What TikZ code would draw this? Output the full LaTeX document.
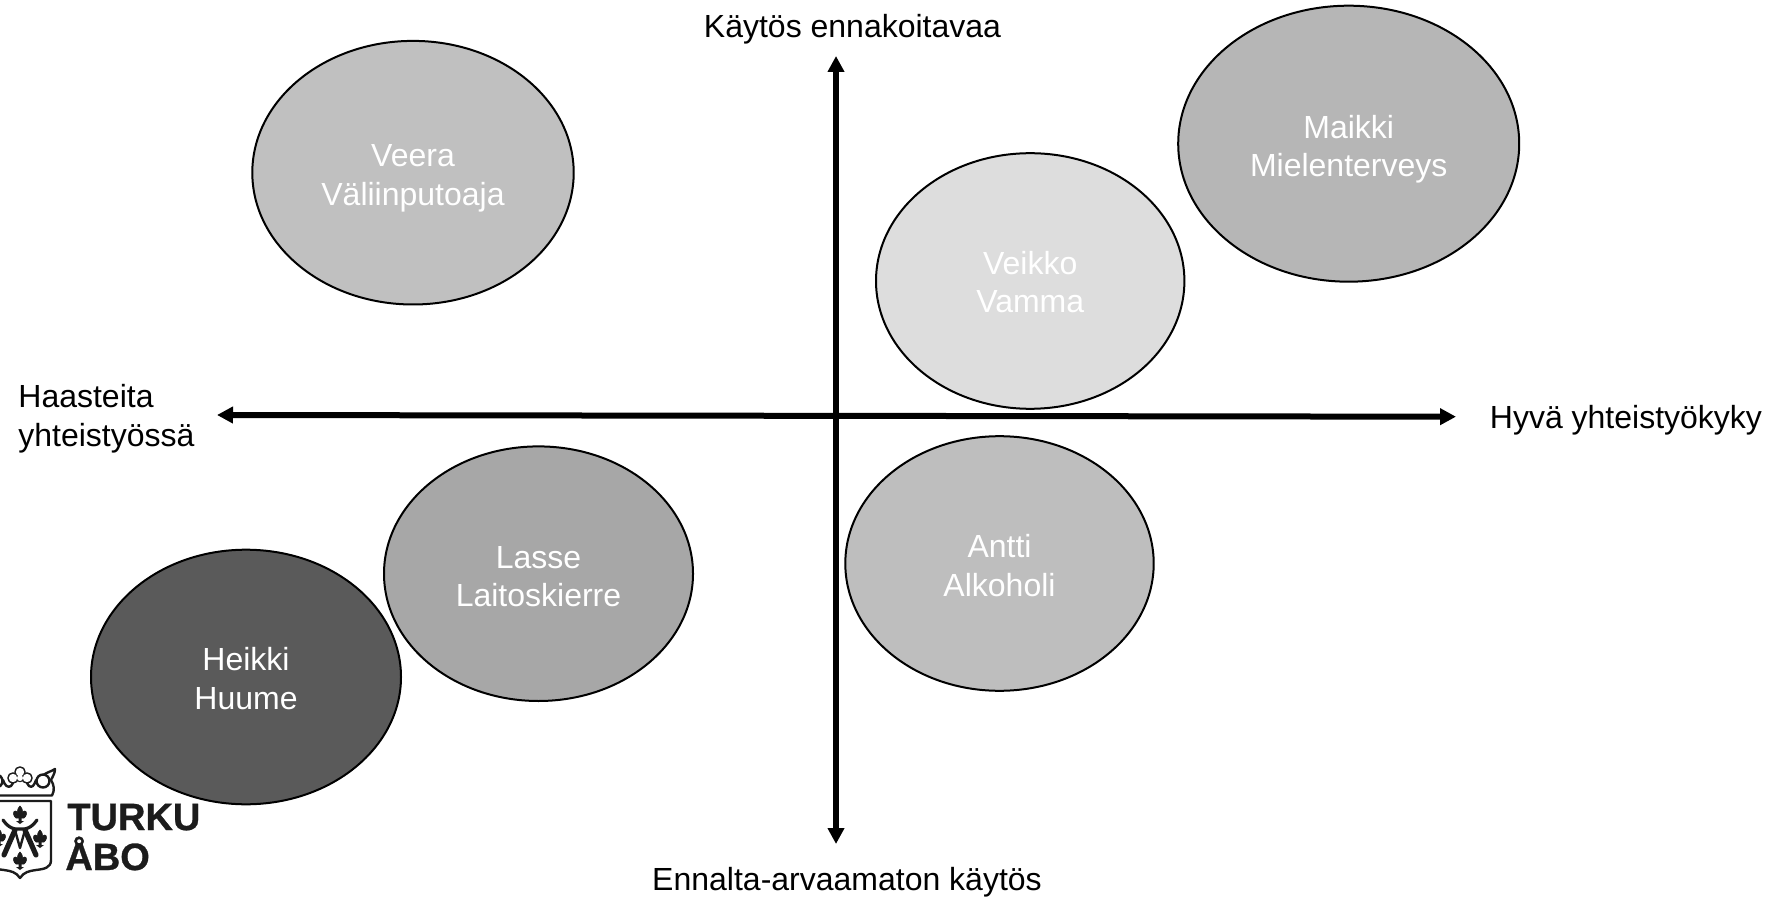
\documentclass[tikz,border=0pt]{standalone}
\usepackage{fontspec}
\setmainfont{Liberation Sans}
\newfontfamily\logofont[RawFeature={embolden=0.8}]{Liberation Sans Bold}
\usetikzlibrary{arrows.meta,shapes.geometric}
\definecolor{logoink}{HTML}{1C1C1C}
\definecolor{fillveera}{HTML}{C0C0C0}
\definecolor{fillmaikki}{HTML}{B6B6B6}
\definecolor{fillveikko}{HTML}{DDDDDD}
\definecolor{fillantti}{HTML}{BEBEBE}
\definecolor{filllasse}{HTML}{A7A7A7}
\definecolor{fillheikki}{HTML}{5A5A5A}
\tikzset{
  persona/.style={ellipse,draw=black,line width=1pt,inner sep=0pt},
  personatext/.style={text=white,inner sep=0pt,align=center,font=\fontsize{16}{19.3}\selectfont},
  axislabel/.style={text=black,inner sep=0pt,font=\fontsize{16}{19}\selectfont},
  axisline/.style={line width=3pt,draw=black,{Triangle[length=8pt,width=8pt]}-{Triangle[length=8pt,width=8pt]}},
  logoline/.style={draw=logoink,line width=1.2pt,line join=round,line cap=round},
  logotext/.style={text=logoink,inner sep=0pt,anchor=base west,font=\fontsize{19}{20}\selectfont\logofont}
}
\newcommand{\lilymark}[1]{%
  \begin{scope}[shift={(#1)}]
    \filldraw[logoink,line width=.3pt] (0,-9) .. controls (3,-6) and (3,-3) .. (1.5,-1)
      .. controls (3,-5) and (7,-5) .. (6.5,-1) .. controls (6.5,1) and (5,2) .. (4,3)
      -- (-4,3) .. controls (-5,2) and (-6.5,1) .. (-6.5,-1)
      .. controls (-7,-5) and (-3,-5) .. (-1.5,-1) .. controls (-3,-3) and (-3,-6) .. (0,-9) -- cycle;
    \fill[logoink] (-1.5,3) rectangle (1.5,6) (-4,6) -- (4,6) -- (0,9) -- cycle;
  \end{scope}}
\begin{document}
\begin{tikzpicture}[x=0.5pt,y=-0.5pt]
\useasboundingbox (0,0) rectangle (1780,897);
% personas
\node[persona,fill=fillveera,minimum width=160.7pt,minimum height=131.8pt] (veera) at (413,172.7) {};
\node[personatext] (veeratext) at (413,178.4) {Veera\\Väliinputoaja};
\node[persona,fill=fillmaikki,minimum width=170.5pt,minimum height=138pt] (maikki) at (1348.7,143.7) {};
\node[personatext] (maikkitext) at (1348.7,149.2) {Maikki\\Mielenterveys};
\node[persona,fill=fillveikko,minimum width=154.2pt,minimum height=127.8pt] (veikko) at (1030.2,281) {};
\node[personatext] (veikkotext) at (1030.2,282.2) {Veikko\\Vamma};
\node[persona,fill=fillantti,minimum width=154.2pt,minimum height=127.3pt] (antti) at (999.5,563.5) {};
\node[personatext] (anttitext) at (999.5,565.5) {Antti\\Alkoholi};
\node[persona,fill=filllasse,minimum width=154.5pt,minimum height=127.3pt] (lasse) at (538.5,573.7) {};
\node[personatext] (lassetext) at (538.5,576.5) {Lasse\\Laitoskierre};
\node[persona,fill=fillheikki,minimum width=155pt,minimum height=127.3pt] (heikki) at (246,677) {};
\node[personatext] (heikkitext) at (246,678.8) {Heikki\\Huume};
% axes
\coordinate (axisleft) at (217,415);
\coordinate (axisright) at (1456,416.7);
\coordinate (axistop) at (836,56);
\coordinate (axisbottom) at (836,844);
\draw[axisline] (axisleft) -- (axisright);
\draw[axisline] (axistop) -- (axisbottom);
% axis labels
\node[axislabel,anchor=base] (top) at (852.5,37.5) {Käytös ennakoitavaa};
\node[axislabel,anchor=base] (bottom) at (847,890) {Ennalta-arvaamaton käytös};
\node[axislabel,anchor=base west] (right) at (1489.5,429) {Hyvä yhteistyökyky};
\node[axislabel,anchor=base west] (left1) at (18,408) {Haasteita};
\node[axislabel,anchor=base west] (left2) at (18,446) {yhteistyössä};
% logo
\begin{scope}
\clip (0,740) rectangle (240,897);
\node[logotext] (turku) at (67,830) {TURKU};
\node[logotext] (abo) at (65,870) {ÅBO};
% crown: lobes and curls
\foreach \cx/\cy/\r in {20/772/4.6,13/778/4.6,27/778/4.6,20/778/3}
  \draw[logoline] (\cx,\cy) circle (\r);
\fill[white] (20,772) circle (4.2) (13,778) circle (4.2) (27,778) circle (4.2) (20,778) circle (3);
\draw[logoline] (43,781) circle (6.5) (-4,781) circle (6.5);
\draw[logoline] (-4,795.5) -- (52,795.5) .. controls (55,790) and (54,785) .. (51,780)
  .. controls (53,776) and (55,773) .. (55,769) .. controls (52,771) and (48,772) .. (44,774.5);
\draw[logoline] (36,780) .. controls (34,786) and (32,788) .. (29,786) -- (27,783);
\draw[logoline] (3,780) .. controls (5,786) and (8,788) .. (11,786) -- (13,783);
% shield
\draw[logoline] (-12,801) -- (51,801) -- (51,860) .. controls (51,868) and (44,869) .. (36,870)
  .. controls (29,871) and (24,872) .. (20,878) .. controls (16,872) and (11,871) .. (4,870)
  .. controls (-4,869) and (-12,868) .. (-12,860) -- cycle;
% lilies
\lilymark{20,815}
\lilymark{40,839}
\lilymark{20,861}
\lilymark{-1,838}
% monogram
\draw[draw=logoink,line width=1.6pt,line cap=round,line join=round]
  (3,820) .. controls (7,826) and (11,828) .. (15,829) -- (25,829) .. controls (29,828) and (33,826) .. (37,820);
\draw[draw=logoink,line width=2.6pt,line cap=round]
  (15,830) -- (4,855)  (25,830) -- (36,855);
\draw[draw=logoink,line width=1.2pt,line join=round]
  (15,830) -- (20,848) -- (25,830);
\end{scope}
\end{tikzpicture}
\end{document}
